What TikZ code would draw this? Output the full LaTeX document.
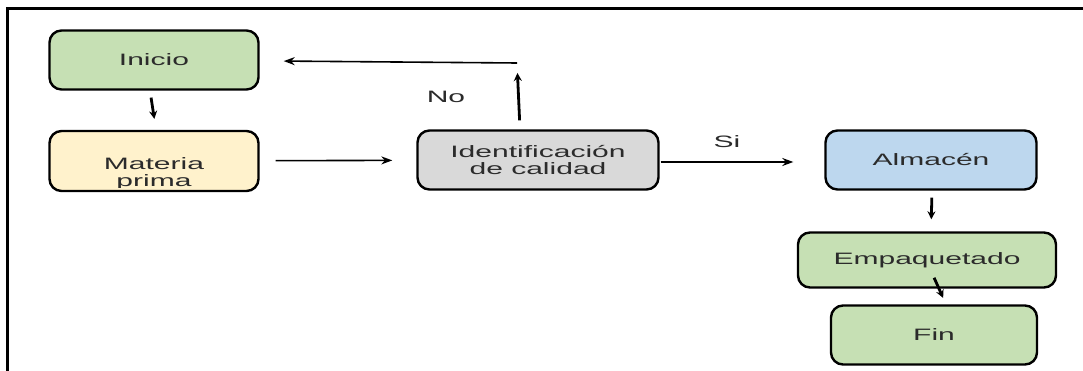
\documentclass[tikz,border=0pt]{standalone}
\usepackage{fontspec}
\setmainfont{Liberation Sans}[FakeStretch=1.82]
\usetikzlibrary{arrows.meta}
\definecolor{verde}{HTML}{C6E0B4}
\definecolor{amarillo}{HTML}{FFF2CC}
\definecolor{gris}{HTML}{D9D9D9}
\definecolor{azul}{HTML}{BDD7EE}
\definecolor{tinta}{HTML}{2B2B2B}

\begin{document}
\begin{tikzpicture}[
x=1pt,y=-1pt,
font=\fontsize{16.5}{17}\selectfont,
caja/.style={
	draw,
	line width=2.4pt,
	rounded corners=12pt,
	minimum height=59pt,
	align=center,
	text=tinta
},
etiqueta/.style={
	text=tinta,
	inner sep=0pt
},
flecha/.style={
	-{Stealth[length=11pt,width=8pt]},
	line width=1.6pt
},
flechita/.style={
	-{Stealth[length=8pt,width=8pt]},
	line width=2.8pt
}
]
\useasboundingbox (0,0) rectangle (1083,371);
\draw[line width=3pt] (7.5,371) -- (7.5,8.5) -- (1083,8.5);

\node[caja,fill=verde,minimum width=209pt] (inicio) at (154,60) {Inicio};
\node[caja,fill=amarillo,minimum width=209pt,minimum height=60pt] (materia) at (154,161) {};
\node[caja,fill=gris,minimum width=241pt] (ident) at (538,160) {Identificación\\de calidad};
\node[caja,fill=azul,minimum width=211pt] (almacen) at (931,160) {Almacén};
\node[caja,fill=verde,minimum width=258pt,minimum height=55pt] (empaque) at (927,260) {Empaquetado};
\node[caja,fill=verde,minimum width=206pt] (fin) at (934,335) {Fin};

% texto cortado por el borde de la caja
\begin{scope}
\clip[rounded corners=11pt] ([shift={(1.2pt,4.5pt)}]materia.south west) rectangle ([shift={(-1.2pt,-1.2pt)}]materia.north east);
\node[etiqueta,align=center] (materiatxt) at ([yshift=-13pt]materia.center) {Materia\\prima};
\end{scope}

\node[etiqueta] (no) at (446,97) {No};
\node[etiqueta] (si) at (727,142) {Si};

\coordinate (retorno) at (517,63);

\draw[flechita,shorten <=7pt,shorten >=11pt] ([xshift=-4pt]inicio.south) -- ([xshift=2pt]materia.north);
\draw[flecha,shorten <=16pt,shorten >=24pt] (materia) -- (ident);
\draw[flechita,shorten <=9pt,shorten >=10pt] ([xshift=3pt]retorno |- ident.north) -- (retorno);
\draw[flecha,shorten >=24pt] (retorno) -- (inicio);
\draw[flecha,shorten <=1pt,shorten >=31pt] ([yshift=-2pt]ident.east) -- ([yshift=-2pt]almacen.west);
\draw[flechita,shorten <=7pt,shorten >=12pt] ([xshift=1pt]almacen.south) -- ([xshift=4pt]empaque.north);
\draw[flechita,shorten <=-12pt,shorten >=7pt] ([xshift=12pt]empaque.south) -- ([xshift=12pt]fin.north);
\end{tikzpicture}
\end{document}
